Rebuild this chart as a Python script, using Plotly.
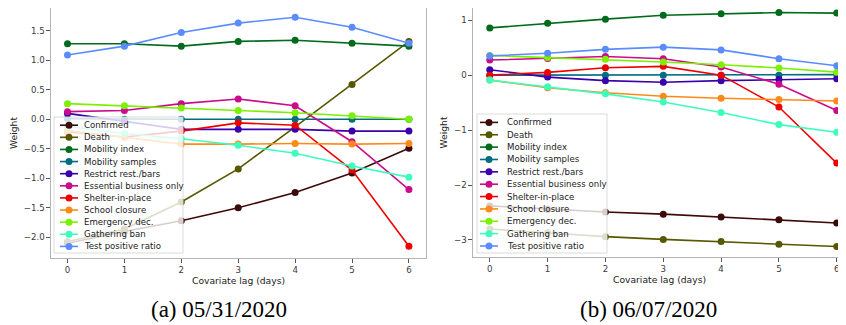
import plotly.graph_objects as go

W, H = 846, 325
OFF = 8  # page body margin offset

lags = [0, 1, 2, 3, 4, 5, 6]
names = ["Confirmed", "Death", "Mobility index", "Mobility samples",
         "Restrict rest./bars", "Essential business only", "Shelter-in-place",
         "School closure", "Emergency dec.", "Gathering ban", "Test positive ratio"]
colors = ["#3d0a0a", "#575700", "#006b1c", "#006d80", "#3a00ac", "#cc0a8c",
          "#ee0000", "#ff8a1a", "#7cf000", "#3cffbc", "#5a8cff"]

# (a) 05/31/2020
a_confirmed = [-2.10, -1.90, -1.72, -1.50, -1.24, -0.91, -0.49]
a_death = [-2.07, -1.86, -1.40, -0.84, -0.13, 0.59, 1.32]
a_mob_index = [1.28, 1.28, 1.24, 1.32, 1.34, 1.29, 1.24]
a_mob_samples = [0.01, 0.0, 0.0, 0.0, 0.0, 0.0, 0.0]
a_restrict = [0.10, -0.03, -0.17, -0.17, -0.17, -0.20, -0.20]
a_essential = [0.13, 0.15, 0.265, 0.345, 0.23, -0.38, -1.19]
a_shelter = [-0.21, -0.30, -0.20, -0.06, -0.10, -0.86, -2.15]
a_school = [-0.19, -0.31, -0.42, -0.42, -0.41, -0.42, -0.41]
a_emergency = [0.265, 0.23, 0.19, 0.15, 0.11, 0.06, 0.0]
a_gathering = [-0.12, -0.24, -0.33, -0.44, -0.575, -0.79, -0.98]
a_test_pos = [1.09, 1.24, 1.47, 1.63, 1.73, 1.56, 1.29]

# (b) 06/07/2020
b_confirmed = [-2.38, -2.44, -2.49, -2.53, -2.58, -2.63, -2.69]
b_death = [-2.80, -2.87, -2.94, -2.99, -3.03, -3.08, -3.12]
b_mob_index = [0.86, 0.945, 1.02, 1.09, 1.12, 1.14, 1.13]
b_mob_samples = [0.0, 0.0, 0.0, 0.0, 0.0, 0.0, 0.01]
b_restrict = [0.10, -0.035, -0.10, -0.13, -0.10, -0.08, -0.065]
b_essential = [0.275, 0.305, 0.34, 0.30, 0.15, -0.165, -0.645]
b_shelter = [0.0, 0.05, 0.135, 0.16, 0.0, -0.58, -1.60]
b_school = [-0.09, -0.23, -0.32, -0.385, -0.42, -0.445, -0.47]
b_emergency = [0.36, 0.32, 0.29, 0.24, 0.19, 0.13, 0.055]
b_gathering = [-0.09, -0.21, -0.34, -0.49, -0.68, -0.90, -1.04]
b_test_pos = [0.35, 0.40, 0.47, 0.51, 0.46, 0.30, 0.17]

series_a = [a_confirmed, a_death, a_mob_index, a_mob_samples, a_restrict, a_essential,
            a_shelter, a_school, a_emergency, a_gathering, a_test_pos]
series_b = [b_confirmed, b_death, b_mob_index, b_mob_samples, b_restrict, b_essential,
            b_shelter, b_school, b_emergency, b_gathering, b_test_pos]

captions = ["(a) 05/31/2020", "(b) 06/07/2020"]

fig = go.Figure()

for ax, series in (("", series_a), ("2", series_b)):
    for name, col, vals in zip(names, colors, series):
        fig.add_trace(go.Scatter(
            x=lags, y=vals, name=name, mode="lines+markers",
            line=dict(color=col, width=1.6),
            marker=dict(color=col, size=7),
            xaxis="x" + ax, yaxis="y" + ax, showlegend=False,
            hoverinfo="skip", cliponaxis=(ax != "")))


def px(x):
    return (x - OFF) / W


def py(y):
    return min(1.0, 1 - (y - OFF) / H)


spine = "#b4b4b4"
tickfont = dict(family="DejaVu Sans", size=8.6, color="#3a3a3a")
titlefont = dict(family="DejaVu Sans", size=9.2, color="#222222")

common_x = dict(showgrid=False, zeroline=False, showline=True, linecolor=spine,
                linewidth=1.2, ticks="outside", ticklen=3.5, tickcolor="#555555",
                tickwidth=0.8, tickfont=tickfont, tickvals=lags,
                title=dict(text="Covariate lag (days)", font=titlefont, standoff=2))
common_y = dict(showgrid=False, zeroline=False, showline=True, linecolor=spine,
                linewidth=1.2, ticks="outside", ticklen=3.5, tickcolor="#555555",
                tickwidth=0.8, tickfont=tickfont,
                title=dict(text="Weight", font=titlefont, standoff=4))

# y ranges: bottom value fixed at the bottom spine; top value at the visible top
a_ppu = 252 / (1.92 + 2.35)   # pixels per unit, panel (a)
b_ppu = 256 / (1.35 + 3.31)   # pixels per unit, panel (b)
a_top = 1.92 - (OFF - 6) / a_ppu
b_top = 1.35 - (OFF - 1) / b_ppu

fig.update_layout(
    width=W, height=H, margin=dict(l=0, r=0, t=0, b=0),
    paper_bgcolor="white", plot_bgcolor="white", showlegend=False,
    xaxis=dict(common_x, domain=[px(51), px(426)], range=[-0.29, 6.3],
               mirror=True, anchor="y"),
    yaxis=dict(common_y, domain=[py(258), 1.0], range=[-2.35, a_top],
               dtick=0.5, tickformat=".1f", mirror=True, anchor="x"),
    xaxis2=dict(common_x, domain=[px(473), px(846)], range=[-0.29, 6.16],
                mirror=True, anchor="y2"),
    yaxis2=dict(common_y, domain=[py(257), 1.0], range=[-3.31, b_top],
                dtick=1, tickformat="d", anchor="x2"),
)

shapes = []
annotations = []

# custom legends
legend_specs = [
    # box left, top, right, bottom, line x0, x1, text x, first row y, row step
    (54, 117, 183, 253, 60, 78, 82, 125.2, 12.12),
    (477, 114, 607, 253, 480, 498, 505, 122.4, 12.36),
]
for (bl, bt, br, bb, lx0, lx1, tx, ry0, dy) in legend_specs:
    shapes.append(dict(type="rect", xref="paper", yref="paper",
                       x0=px(bl), x1=px(br), y0=py(bb), y1=py(bt),
                       fillcolor="rgba(255,255,255,0.8)",
                       line=dict(color="rgba(215,215,215,0.9)", width=1),
                       layer="above"))
    for i, (name, col) in enumerate(zip(names, colors)):
        yy = ry0 + i * dy
        shapes.append(dict(type="line", xref="paper", yref="paper",
                           x0=px(lx0), x1=px(lx1), y0=py(yy), y1=py(yy),
                           line=dict(color=col, width=1.6), layer="above"))
        shapes.append(dict(type="circle", xref="paper", yref="paper",
                           xsizemode="pixel", ysizemode="pixel",
                           xanchor=px((lx0 + lx1) / 2), yanchor=py(yy),
                           x0=-3.5, x1=3.5, y0=-3.5, y1=3.5,
                           fillcolor=col, line=dict(color=col, width=0),
                           layer="above"))
        annotations.append(dict(xref="paper", yref="paper", x=px(tx), y=py(yy),
                                text=name, showarrow=False, xanchor="left",
                                yanchor="middle",
                                font=dict(family="DejaVu Sans", size=8.6,
                                          color="#222222")))

for cx, cap in zip([218.5, 648], captions):
    annotations.append(dict(xref="paper", yref="paper", x=px(cx), y=py(309),
                            text=cap, showarrow=False, xanchor="center",
                            yanchor="middle",
                            font=dict(family="Liberation Serif", size=23,
                                      color="black")))

fig.update_layout(shapes=shapes, annotations=annotations)
fig.write_html("out.html")
